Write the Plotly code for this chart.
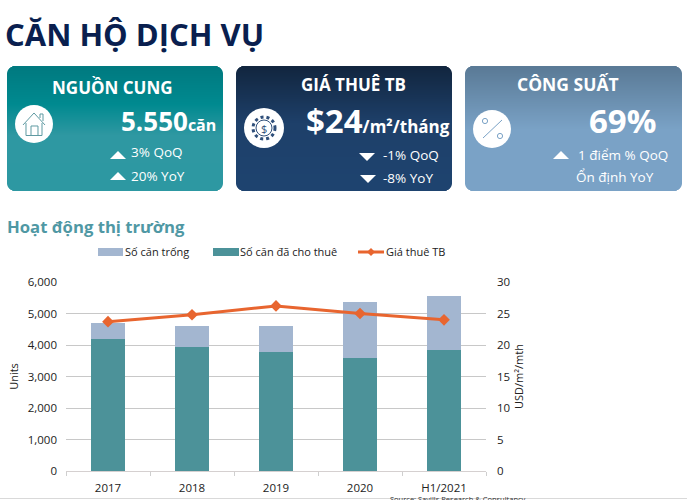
import plotly.graph_objects as go

categories = ["2017", "2018", "2019", "2020", "H1/2021"]
leased_units = [4180, 3950, 3770, 3600, 3850]
vacant_units = [520, 650, 830, 1780, 1700]
avg_rent = [23.7, 24.8, 26.2, 25.0, 24.0]

W, H = 687, 500
L, R, T, B = 66, 486, 282, 471
FONT = "Open Sans"
TEAL, BLUE, ORANGE = "#4c9299", "#a3b6d0", "#e8652f"


def px(x):
    return (x - L) / (R - L)


def py(y):
    return (B - y) / (B - T)


shapes = []
notes = []


def note(x, y, text, size, color="white", bold=False, anchor="center", angle=0):
    if bold:
        text = f"<b>{text}</b>"
    notes.append(dict(x=px(x), y=py(y), xref="paper", yref="paper", text=text, showarrow=False,
                      xanchor=anchor, yanchor="middle", font=dict(family=FONT, size=size, color=color),
                      textangle=angle, borderpad=0, borderwidth=0))


def rgb(c):
    return tuple(int(c[i:i + 2], 16) for i in (1, 3, 5))


def card(x0, x1, y0, y1, stops, r=8):
    # no gradient fill on shapes, so stack 1px bands and inset them at the corners
    for y in range(y0, y1):
        t = (y - y0) / (y1 - y0)
        for (t0, c0), (t1, c1) in zip(stops, stops[1:]):
            if t0 <= t <= t1:
                f = (t - t0) / (t1 - t0)
                a, b = rgb(c0), rgb(c1)
                col = "rgb(%d,%d,%d)" % tuple(a[i] + (b[i] - a[i]) * f for i in range(3))
                break
        d = min(y + .5 - y0, y1 - y - .5)
        inset = r - (r * r - (r - d) ** 2) ** .5 if d < r else 0
        shapes.append(dict(type="rect", xref="paper", yref="paper", x0=px(x0 + inset), x1=px(x1 - inset),
                           y0=py(y), y1=py(y + 1.1), fillcolor=col, line_width=0, layer="below"))


def path(points, fill="white", line=None, width=1, close=True):
    d = "M" + " L".join(f"{px(x):.5f},{py(y):.5f}" for x, y in points) + (" Z" if close else "")
    shapes.append(dict(type="path", xref="paper", yref="paper", path=d, fillcolor=fill if close else None,
                       line=dict(color=line, width=width) if line else dict(width=0), layer="below"))


def circle(cx, cy, r, fill="white", line=None, width=1, dash="solid"):
    shapes.append(dict(type="circle", xref="paper", yref="paper", x0=px(cx - r), x1=px(cx + r),
                       y0=py(cy - r), y1=py(cy + r), fillcolor=fill,
                       line=dict(color=line, width=width, dash=dash) if line else dict(width=0), layer="below"))


def tri(cx, cy, up=True):
    s = 1 if up else -1
    path([(cx - 8, cy + 4 * s), (cx + 8, cy + 4 * s), (cx, cy - 4 * s)])


card(7, 223, 66, 191, [(0, "#007a80"), (.3, "#008a90"), (.55, "#2f98a2"), (1, "#2d99a3")])
card(236, 452, 66, 191, [(0, "#12263f"), (.45, "#1e406a"), (1, "#1f4470")])
card(465, 682, 66, 191, [(0, "#5a7a96"), (.5, "#7aa2c6"), (1, "#7ba3c7")])

# icons
circle(34, 124, 19)
path([(23, 125), (34, 113), (45, 125)], line="#5f9aa2", close=False)
path([(26, 123), (26, 135.5), (42, 135.5), (42, 123)], line="#5f9aa2", close=False)
path([(31, 135), (31, 126), (38, 126), (38, 135)], line="#5f9aa2", close=False)
path([(40, 118), (40, 114), (43, 114), (43, 121)], line="#5f9aa2", close=False)
circle(264, 128, 20)
circle(264, 128, 11, fill="white", line="#2f4f7a", width=3, dash="dot")
circle(264, 128, 8, fill="white", line="#2f4f7a", width=1)
note(264, 128, "$", 11, color="#2f4f7a")
circle(492, 129, 19)
path([(483, 138), (502, 120)], line="#7aa2c6", close=False)
circle(485, 121, 2.6, line="#7aa2c6")
circle(500, 136, 2.6, line="#7aa2c6")

# arrows
tri(118, 155)
tri(118, 176)
tri(367, 157, up=False)
tri(368, 179, up=False)
tri(561, 155)

# card text
note(5, 34, "CĂN HỘ DỊCH VỤ", 31, color="#0a1f4f", bold=True, anchor="left")
note(112, 87, "NGUỒN CUNG", 17, bold=True)
note(216, 121, "<span style='font-size:26px'>5.550</span><span style='font-size:16px'>căn</span>", 16, bold=True, anchor="right")
note(131, 152, "3% QoQ", 13.5, anchor="left")
note(131, 176, "20% YoY", 13.5, anchor="left")
note(353, 84, "GIÁ THUÊ TB", 17, bold=True)
note(450, 120, "<span style='font-size:33px'>$24</span><span style='font-size:17px'>/m²/tháng</span>", 17, bold=True, anchor="right")
note(383, 155, "-1% QoQ", 13.5, anchor="left")
note(383, 178, "-8% YoY", 13.5, anchor="left")
note(568, 84, "CÔNG SUẤT", 17.5, bold=True)
note(622, 120, "69%", 33, bold=True)
note(578, 155, "1 điểm % QoQ", 13.5, anchor="left")
note(576, 177, "Ổn định YoY", 13.5, anchor="left")
note(7, 226, "Hoạt động thị trường", 16.7, color="#4f98a4", bold=True, anchor="left")
note(458, 499, "Source: Savills Research &amp; Consultancy", 7.5, color="#333333")

# legend drawn by hand: plotly's bar swatches are much narrower than the wide bars here
shapes.append(dict(type="rect", xref="paper", yref="paper", x0=px(98), x1=px(123), y0=py(248), y1=py(256),
                   fillcolor=BLUE, line_width=0))
note(125, 252, "Số căn trống", 11, color="#222222", anchor="left")
shapes.append(dict(type="rect", xref="paper", yref="paper", x0=px(213), x1=px(239), y0=py(248), y1=py(256),
                   fillcolor=TEAL, line_width=0))
note(240, 252, "Số căn đã cho thuê", 11, color="#222222", anchor="left")
path([(358, 252), (384, 252)], line=ORANGE, width=3, close=False)
path([(371, 248), (375, 252), (371, 256), (367, 252)], fill=ORANGE)
note(386, 252, "Giá thuê TB", 11, color="#222222", anchor="left")

# thin rule at the bottom of the page
shapes.append(dict(type="line", xref="paper", yref="paper", x0=px(0), x1=px(W), y0=py(498.5), y1=py(498.5),
                   line=dict(color="#d9d9d9", width=1), layer="below"))

fig = go.Figure()
fig.add_trace(go.Bar(x=categories, y=leased_units, name="Số căn đã cho thuê", marker_color=TEAL, marker_line_width=0))
fig.add_trace(go.Bar(x=categories, y=vacant_units, name="Số căn trống", marker_color=BLUE, marker_line_width=0))
fig.add_trace(go.Scatter(x=categories, y=avg_rent, name="Giá thuê TB", yaxis="y2", mode="lines+markers",
                         line=dict(color=ORANGE, width=3), marker=dict(symbol="diamond", size=9, color=ORANGE)))

fig.update_layout(
    width=W, height=H, margin=dict(l=L, r=W - R, t=T, b=H - B), autosize=False,
    paper_bgcolor="white", plot_bgcolor="white", barmode="stack", bargap=.6, showlegend=False,
    font=dict(family=FONT, size=11.5, color="#222222"),
    shapes=shapes, annotations=notes,
    xaxis=dict(type="category", tickson="boundaries", ticks="outside", ticklen=4, tickcolor="#cfcfcf",
               showline=True, linecolor="#d5d0d0", linewidth=1, showgrid=False, ticklabelstandoff=6,
               automargin=False),
    yaxis=dict(range=[0, 6000], dtick=1000, tickformat=",d", gridcolor="#c8c8c8", gridwidth=1, zeroline=False,
               ticklabelstandoff=8, title=dict(text="Units", font=dict(size=11), standoff=6)),
    yaxis2=dict(range=[0, 30], dtick=5, overlaying="y", side="right", showgrid=False, zeroline=False,
                ticklabelstandoff=10, title=dict(text="USD/m²/mth", font=dict(size=11), standoff=6)),
)

fig.write_html("out.html", post_script="document.body.style.margin='0';", config=dict(displayModeBar=False))
